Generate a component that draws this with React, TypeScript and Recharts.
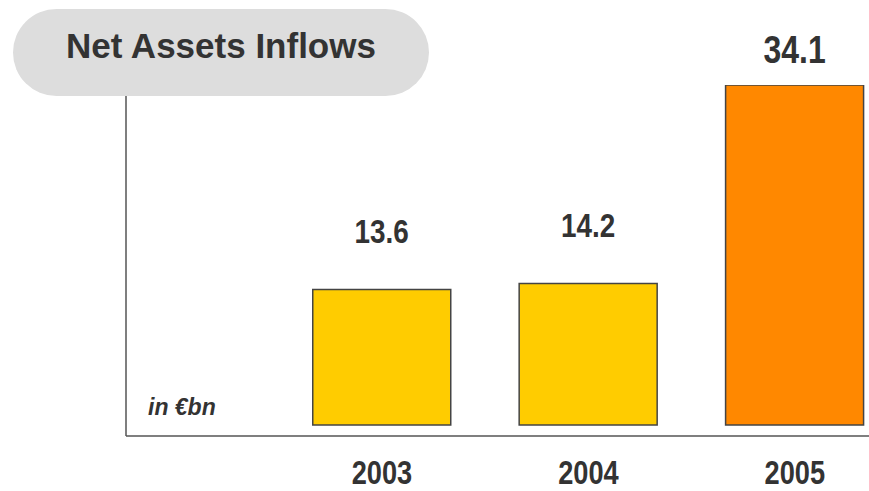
import React from "react"
import { BarChart, Bar, XAxis, YAxis, Cell, LabelList } from "recharts"

const years = ["2003", "2004", "2005"]
const inflows = [13.6, 14.2, 34.1]
const barColors = ["#FFCC00", "#FFCC00", "#FF8800"]

const data = years.map((year, i) => ({ year, value: inflows[i] }))

const SANS = '"Liberation Sans", Arial, sans-serif'
const TEXT = "#333333"

// no narrow font installed, so squeeze the bold sans horizontally
const NarrowText = ({ x, y, size, squeeze, children }: any) => (
  <text
    transform={`translate(${x},${y}) scale(${squeeze},1)`}
    textAnchor="middle"
    fill={TEXT}
    fontFamily={SANS}
    fontWeight="bold"
    fontSize={size}
  >
    {children}
  </text>
)

const YearTick = (props: any) => {
  const { x, y, payload } = props
  return (
    <NarrowText x={x} y={y + 40} size={34} squeeze={0.8}>
      {payload.value}
    </NarrowText>
  )
}

const ValueLabel = (props: any) => {
  const { x, y, width, value, index } = props
  // the big 2005 figure sits closer to its bar and is a bit larger
  const last = index === inflows.length - 1
  return (
    <NarrowText x={x + width / 2} y={y - (last ? 22 : 46)} size={last ? 39 : 34} squeeze={0.82}>
      {value}
    </NarrowText>
  )
}

export default function App() {
  return (
    <div style={{ position: "absolute", left: 0, top: 0, width: 869, height: 491, overflow: "hidden", background: "#fff" }}>
      <BarChart width={900} height={491} data={data} margin={{ top: 85, right: 2, left: 125, bottom: 0 }}>
        <XAxis
          dataKey="year"
          height={55}
          padding={{ left: 152.75, right: 0 }}
          tickLine={false}
          axisLine={{ stroke: "#555", strokeWidth: 1.5 }}
          tick={<YearTick />}
        />
        <YAxis
          type="number"
          domain={[-1.1, 34.1]}
          allowDataOverflow
          width={1}
          tick={false}
          tickLine={false}
          axisLine={{ stroke: "#555", strokeWidth: 1.5 }}
        />
        <Bar dataKey="value" barSize={138} stroke="#444" strokeWidth={1.5} isAnimationActive={false}>
          {data.map((d, i) => (
            <Cell key={d.year} fill={barColors[i]} />
          ))}
          <LabelList dataKey="value" content={<ValueLabel />} />
        </Bar>
      </BarChart>

      <div
        style={{
          position: "absolute",
          left: 13,
          top: 9,
          width: 416,
          height: 87,
          borderRadius: 43.5,
          background: "#DDDDDD",
          display: "flex",
          alignItems: "center",
          justifyContent: "center",
          paddingBottom: 14,
          boxSizing: "border-box",
          fontFamily: SANS,
          fontWeight: "bold",
          fontSize: 35,
          color: TEXT,
        }}
      >
        Net Assets Inflows
      </div>

      <div
        style={{
          position: "absolute",
          left: 148,
          top: 394,
          fontFamily: SANS,
          fontWeight: "bold",
          fontStyle: "italic",
          fontSize: 23,
          color: TEXT,
        }}
      >
        in €bn
      </div>
    </div>
  )
}
